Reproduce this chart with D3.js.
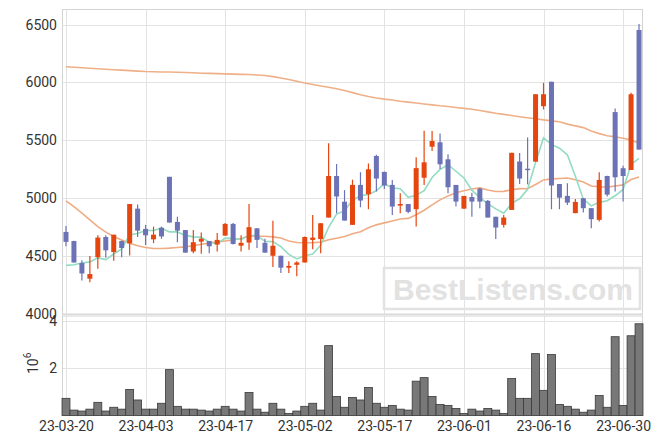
<!DOCTYPE html>
<html>
<head>
<meta charset="utf-8">
<script src="https://cdn.jsdelivr.net/npm/d3@7"></script>
<style>
  html, body { margin: 0; padding: 0; background: #fff; }
  svg { display: block; font-family: Roboto, "Liberation Sans", sans-serif; }
</style>
</head>
<body>
<svg id="chart" width="663" height="444"></svg>
<script>
const dates = [
  "2023-03-20","2023-03-21","2023-03-22","2023-03-23","2023-03-24","2023-03-27","2023-03-28","2023-03-29","2023-03-30","2023-03-31",
  "2023-04-03","2023-04-04","2023-04-05","2023-04-06","2023-04-07","2023-04-10","2023-04-11","2023-04-12","2023-04-13","2023-04-14",
  "2023-04-17","2023-04-18","2023-04-19","2023-04-20","2023-04-21","2023-04-24","2023-04-25","2023-04-26","2023-04-27","2023-04-28",
  "2023-05-02","2023-05-03","2023-05-04","2023-05-08","2023-05-09","2023-05-10","2023-05-11","2023-05-12","2023-05-15","2023-05-16",
  "2023-05-17","2023-05-18","2023-05-19","2023-05-22","2023-05-23","2023-05-24","2023-05-25","2023-05-26","2023-05-30","2023-05-31",
  "2023-06-01","2023-06-02","2023-06-05","2023-06-07","2023-06-08","2023-06-09","2023-06-12","2023-06-13","2023-06-14","2023-06-15",
  "2023-06-16","2023-06-19","2023-06-20","2023-06-21","2023-06-22","2023-06-23","2023-06-26","2023-06-27","2023-06-28","2023-06-29",
  "2023-06-30","2023-07-03","2023-07-04"
];
const openP  = [4709,4630,4440,4305,4490,4665,4535,4630,4610,4910,4735,4645,4745,5185,4795,4725,4540,4625,4630,4600,4677,4778,4590,4617,4740,4615,4503,4503,4400,4425,4445,4640,4647,4833,5192,4970,4770,5115,5035,5365,5227,5115,4936,4950,4905,5177,5445,5483,5336,5115,4910,5010,5083,4977,4840,4770,4899,5317,5255,5316,5795,6006,5123,5020,4871,5000,4914,4813,5192,5744,5259,5244,6453];
const highP  = [4760,4632,4465,4500,4680,4680,4685,4635,4950,4945,4770,4755,4755,5185,4840,4725,4725,4705,4630,4700,4785,4785,4680,4950,4740,4650,4805,4503,4455,4455,4670,4855,4784,5475,5295,5070,5160,5225,5300,5375,5230,5158,5043,4950,5353,5583,5580,5560,5380,5115,5020,5048,5090,4985,4840,4856,5392,5390,5525,5898,5997,6006,5123,5129,4994,5000,4914,5224,5195,5776,5281,5910,6505];
const lowP   = [4585,4445,4290,4275,4390,4485,4460,4490,4505,4665,4595,4612,4650,4790,4620,4530,4525,4520,4525,4540,4677,4600,4540,4555,4570,4530,4405,4355,4355,4325,4445,4560,4525,4833,4870,4807,4770,4922,4905,5057,5080,4856,4871,4870,4755,5115,5408,5253,5043,4928,4910,4841,4914,4833,4647,4747,4899,5122,5120,5316,5767,4905,4905,4942,4871,4876,4741,4798,5014,5057,4971,5244,5420];
const closeP = [4623,4445,4350,4345,4660,4550,4685,4570,4950,4720,4680,4685,4670,4790,4720,4530,4620,4650,4585,4640,4778,4605,4615,4750,4640,4530,4590,4400,4415,4445,4665,4660,4784,5192,5015,4807,5115,4980,5250,5170,5110,4928,4950,4882,5260,5310,5494,5293,5095,4971,5020,4971,4971,4833,4747,4833,5392,5170,5245,5898,5898,5110,5005,4962,4968,4914,4819,5158,5031,5181,5192,5898,5420];
const volumeM = [0.73,0.23,0.19,0.27,0.56,0.19,0.35,0.27,1.11,0.66,0.27,0.27,0.52,1.95,0.39,0.27,0.27,0.23,0.19,0.27,0.39,0.27,0.19,0.98,0.27,0.14,0.52,0.27,0.09,0.19,0.39,0.52,0.23,2.97,0.81,0.35,0.77,0.66,1.19,0.52,0.35,0.43,0.27,0.23,1.46,1.61,0.81,0.47,0.43,0.30,0.09,0.27,0.19,0.30,0.23,0.09,1.57,0.73,0.73,2.63,1.07,2.59,0.47,0.39,0.27,0.14,0.23,0.85,0.35,3.35,0.43,3.39,3.90];
const ma5 = [4420,4425,4440,4450,4485,4470,4518,4562,4683,4695,4721,4721,4741,4709,4709,4679,4666,4662,4621,4605,4655,4652,4645,4678,4678,4628,4625,4582,4515,4476,4503,4517,4594,4749,4863,4892,4983,5022,5033,5064,5125,5088,5082,5008,5026,5066,5179,5248,5290,5233,5175,5070,5006,4953,4908,4871,4955,4995,5077,5308,5521,5465,5432,5375,5189,4992,4934,4964,4978,5021,5076,5292,5344];
const ma20 = [4977,4928,4871,4813,4755,4707,4669,4640,4612,4589,4574,4566,4566,4569,4574,4580,4589,4603,4612,4623,4631,4639,4652,4673,4672,4671,4666,4657,4631,4617,4616,4615,4621,4641,4655,4669,4694,4711,4744,4770,4787,4803,4820,4826,4857,4896,4942,4986,5020,5047,5064,5080,5089,5071,5058,5059,5073,5083,5082,5119,5158,5167,5170,5174,5159,5140,5106,5099,5096,5106,5115,5161,5184];
const ma120 = [6136,6131,6127,6122,6118,6114,6110,6106,6102,6098,6094,6092,6090,6090,6088,6086,6084,6080,6078,6076,6074,6072,6070,6068,6064,6060,6050,6038,6025,6010,5995,5982,5970,5958,5946,5930,5912,5893,5878,5866,5856,5848,5838,5830,5822,5814,5806,5798,5792,5784,5776,5768,5758,5746,5734,5724,5714,5704,5695,5686,5677,5668,5660,5640,5625,5610,5580,5558,5540,5530,5518,5503,5474];
const priceTicks = [4000,4500,5000,5500,6000,6500];
const volumeTicks = [2,4];
const dateTickEvery = 10;
const watermarkText = "BestListens.com";

const svg = d3.select("#chart");
const L = 62, R = 643;
const pTop = 9.5, pBot = 314, vTop = 316, vBot = 415.5;

const idx = d3.range(dates.length);
const x = d3.scaleBand().domain(idx).range([L, R]).padding(0);
const cx = i => x(i) + x.bandwidth() / 2;
const y = d3.scaleLinear().domain([4000, 6630]).range([pBot, pTop]);
const yv = d3.scaleLinear().domain([0, 4.23]).range([vBot, vTop]);

const gridColor = "#e3e3e3";
const dateTicks = idx.filter(i => i % dateTickEvery === 0);

// gridlines - price panel
const g = svg.append("g");
g.selectAll("line.hp").data(priceTicks).join("line")
  .attr("x1", L).attr("x2", R)
  .attr("y1", d => Math.round(y(d)) + 0.5).attr("y2", d => Math.round(y(d)) + 0.5)
  .attr("stroke", gridColor);
g.selectAll("line.vp").data(dateTicks).join("line")
  .attr("x1", d => Math.round(cx(d)) + 0.5).attr("x2", d => Math.round(cx(d)) + 0.5)
  .attr("y1", pTop).attr("y2", pBot)
  .attr("stroke", gridColor);
// gridlines - volume panel
g.selectAll("line.hv").data(volumeTicks).join("line")
  .attr("x1", L).attr("x2", R)
  .attr("y1", d => Math.round(yv(d)) + 0.5).attr("y2", d => Math.round(yv(d)) + 0.5)
  .attr("stroke", gridColor);
g.selectAll("line.vv").data(dateTicks).join("line")
  .attr("x1", d => Math.round(cx(d)) + 0.5).attr("x2", d => Math.round(cx(d)) + 0.5)
  .attr("y1", vTop).attr("y2", vBot)
  .attr("stroke", gridColor);

// frames
svg.append("rect").attr("x", L + 0.5).attr("y", pTop).attr("width", R - L - 1).attr("height", pBot - pTop)
  .attr("fill", "none").attr("stroke", "#d4d4d4");
svg.append("rect").attr("x", L + 0.5).attr("y", vTop).attr("width", R - L - 1).attr("height", vBot - vTop)
  .attr("fill", "none").attr("stroke", "#d4d4d4");

// watermark
svg.append("rect").attr("x", 384).attr("y", 268).attr("width", 256).attr("height", 41)
  .attr("fill", "none").attr("stroke", "#e2e2e2").attr("stroke-width", 2.5);
svg.append("text").attr("x", 393).attr("y", 300)
  .attr("font-family", "'Liberation Sans', Arial, sans-serif").attr("font-weight", "bold")
  .attr("font-size", 29).attr("fill", "#e2e2e2")
  .attr("textLength", 240).attr("lengthAdjust", "spacingAndGlyphs")
  .text(watermarkText);

// moving averages
const line = arr => d3.line().x((d, i) => cx(i)).y(d => y(d))(arr);
svg.append("path").attr("d", line(ma120)).attr("fill", "none").attr("stroke", "#efb088").attr("stroke-width", 1.6);
svg.append("path").attr("d", line(ma20)).attr("fill", "none").attr("stroke", "#efac84").attr("stroke-width", 1.6);
svg.append("path").attr("d", line(ma5)).attr("fill", "none").attr("stroke", "#93dcc3").attr("stroke-width", 1.6);

// candles
const upColor = "#e5450f", downColor = "#6c72b6";
const bw = 5;
const cg = svg.append("g");
idx.forEach(i => {
  const up = closeP[i] >= openP[i];
  const col = up ? upColor : downColor;
  cg.append("line")
    .attr("x1", cx(i)).attr("x2", cx(i))
    .attr("y1", y(highP[i])).attr("y2", y(lowP[i]))
    .attr("stroke", col).attr("stroke-width", 1.2);
  const top = y(Math.max(openP[i], closeP[i]));
  const bot = y(Math.min(openP[i], closeP[i]));
  cg.append("rect")
    .attr("x", cx(i) - bw / 2).attr("y", top)
    .attr("width", bw).attr("height", Math.max(1.5, bot - top))
    .attr("fill", col);
});

// volume bars
svg.append("g").selectAll("rect").data(volumeM).join("rect")
  .attr("x", (d, i) => x(i)).attr("y", d => yv(d))
  .attr("width", x.bandwidth()).attr("height", d => vBot - yv(d))
  .attr("fill", "#787878").attr("stroke", "#3a3a3a").attr("stroke-width", 0.8);

// axes
const textColor = "#333";
const yAxis = svg.append("g").attr("transform", `translate(${L},0)`)
  .call(d3.axisLeft(y).tickValues(priceTicks).tickSize(0).tickPadding(5).tickFormat(d3.format("d")));
yAxis.select(".domain").remove();
yAxis.selectAll("text").attr("font-size", 14).attr("fill", textColor).attr("font-family", "Roboto, sans-serif");

const vAxis = svg.append("g").attr("transform", `translate(${L},0)`)
  .call(d3.axisLeft(yv).tickValues(volumeTicks).tickSize(0).tickPadding(5).tickFormat(d3.format("d")));
vAxis.select(".domain").remove();
vAxis.selectAll("text").attr("font-size", 14).attr("fill", textColor).attr("font-family", "Roboto, sans-serif");

const xAxis = svg.append("g").attr("transform", `translate(0,${vBot})`)
  .call(d3.axisBottom(d3.scalePoint().domain(idx).range([cx(0), cx(idx.length - 1)]))
    .tickValues(dateTicks).tickSize(0).tickPadding(6)
    .tickFormat(i => dates[i].slice(2)));
xAxis.select(".domain").remove();
xAxis.selectAll("text").attr("font-size", 14).attr("fill", textColor).attr("font-family", "Roboto, sans-serif");

// volume unit label 10^6
const unit = svg.append("text")
  .attr("transform", "translate(38,374) rotate(-90)")
  .attr("font-size", 14).attr("fill", textColor).attr("font-family", "Roboto, sans-serif");
unit.append("tspan").text("10");
unit.append("tspan").attr("font-size", 10).attr("dy", -7).text("6");
</script>
</body>
</html>
